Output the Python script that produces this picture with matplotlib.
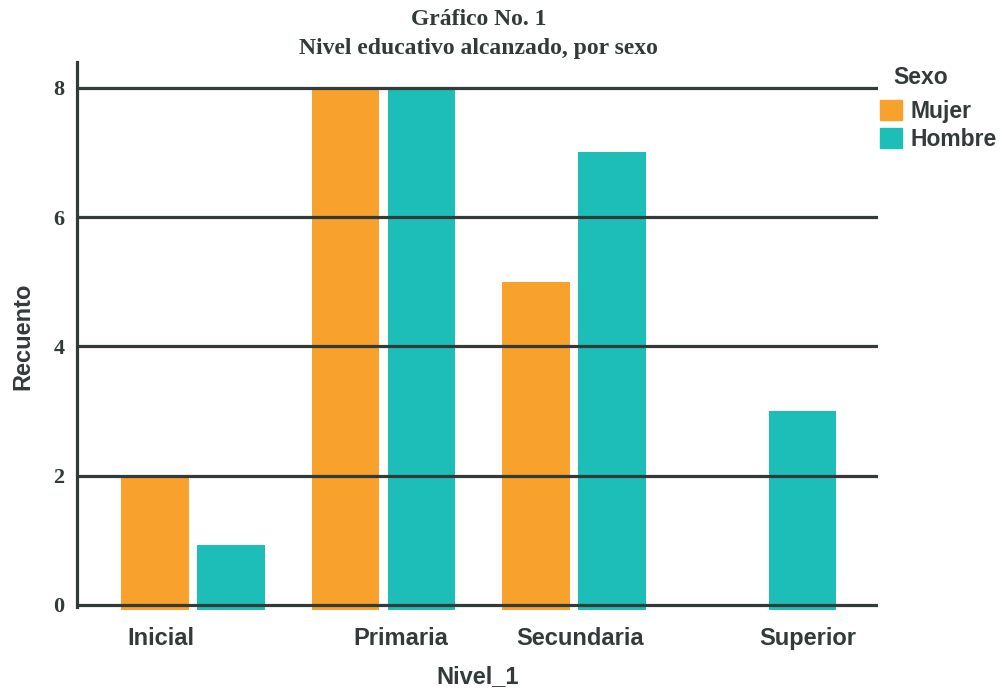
import matplotlib.pyplot as plt
from matplotlib.patches import Patch
import numpy as np

niveles = ['Inicial', 'Primaria', 'Secundaria', 'Superior']
mujer = [2, 8, 5, 0]
hombre = [0.92, 8, 7, 3]
etiquetas_offset = [-0.17, 1.09, 2.03, 3.23]   # where the category labels sit
y_ticks = [0, 2, 4, 6, 8]

naranja = '#F8A22D'
turquesa = '#1DBDB8'
oscuro = '#323a3a'

fig = plt.figure(figsize=(10.03, 6.88), dpi=100)
ax = fig.add_axes([0.0768, 0.1134, 0.7985, 0.7966])

x = np.arange(len(niveles))
ancho = 0.355
base = -0.08
for i in range(len(niveles)):
    if mujer[i] > 0:
        ax.bar(x[i] - 0.2, mujer[i] - base, ancho, bottom=base, color=naranja, zorder=1)
    if hombre[i] > 0:
        ax.bar(x[i] + 0.2, hombre[i] - base, ancho, bottom=base, color=turquesa, zorder=1)

for yv in y_ticks:
    ax.axhline(yv, color=oscuro, lw=2.3, zorder=3)

ax.set_xlim(-0.609, 3.596)
ax.set_ylim(base, 8.4)

for s in ['top', 'right', 'bottom']:
    ax.spines[s].set_visible(False)
ax.spines['left'].set_color(oscuro)
ax.spines['left'].set_linewidth(2.3)
ax.spines['left'].set_bounds(-0.03, 8.4)

ax.set_yticks(y_ticks)
ax.set_yticklabels([str(v) for v in y_ticks], fontfamily='Liberation Serif',
                   fontweight='bold', fontsize=16, color=oscuro)
ax.tick_params(axis='y', length=0, pad=9)

ax.set_xticks(etiquetas_offset)
ax.set_xticklabels(niveles, fontfamily='Liberation Sans', fontweight='bold',
                   fontsize=17, color=oscuro)
ax.tick_params(axis='x', length=0, pad=12)

ax.set_xlabel('Nivel_1', fontfamily='Liberation Sans', fontweight='bold',
              fontsize=17, color=oscuro, labelpad=11)
ax.set_ylabel('Recuento', fontfamily='Liberation Sans', fontweight='bold',
              fontsize=17, color=oscuro, labelpad=14)

fig.text(0.4775, 0.972, 'Gráfico No. 1', ha='center', va='center',
         fontfamily='Liberation Serif', fontweight='bold', fontsize=17, color=oscuro)
fig.text(0.4775, 0.929, 'Nivel educativo alcanzado, por sexo', ha='center', va='center',
         fontfamily='Liberation Serif', fontweight='bold', fontsize=17, color=oscuro)

# legend title drawn apart, it is indented in the original
fig.text(893 / 1003, 1 - 78 / 688, 'Sexo', ha='left', va='center',
         fontfamily='Liberation Sans', fontweight='bold', fontsize=16.5, color=oscuro)
handles = [Patch(color=naranja, label='Mujer'), Patch(color=turquesa, label='Hombre')]
leg = fig.legend(handles=handles, loc='upper left',
                 bbox_to_anchor=(880 / 1003, 1 - 100 / 688), frameon=False,
                 prop={'family': 'Liberation Sans', 'weight': 'bold', 'size': 16.5},
                 handlelength=0.95, handleheight=0.95, handletextpad=0.4,
                 labelspacing=0.22, borderaxespad=0, borderpad=0)
for t in leg.get_texts():
    t.set_color(oscuro)

fig.savefig('out.png', dpi=100)
